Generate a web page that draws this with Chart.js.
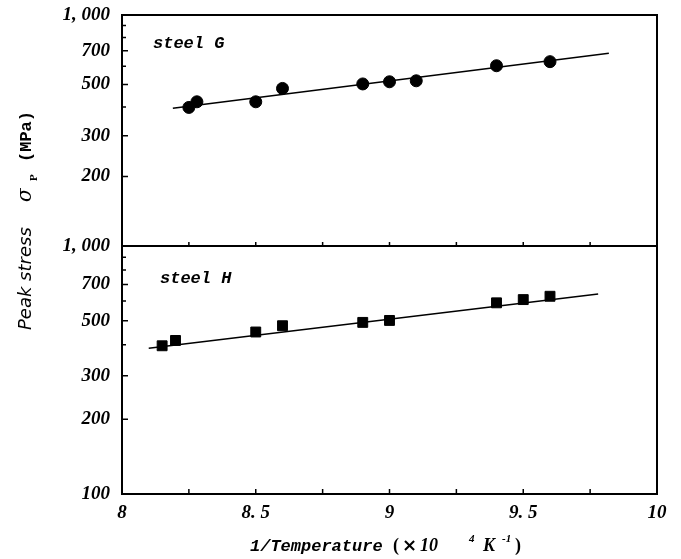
<!DOCTYPE html>
<html><head><meta charset="utf-8">
<script src="https://cdn.jsdelivr.net/npm/chart.js@4"></script>
<style>html,body{margin:0;padding:0;background:#fff}#wrap{width:681px;height:559px;position:relative}</style>
</head><body><div id="wrap"><canvas id="c" width="681" height="559"></canvas></div>
<script>
// ---- data ----
const steelG_x = [8.25, 8.28, 8.5, 8.6, 8.9, 9.0, 9.1, 9.4, 9.6];
const steelG_y = [398, 421, 421, 481, 503, 514, 519, 603, 628];
const steelG_fit_x = [8.19, 9.82];
const steelG_fit_y = [395, 683];
const steelH_x = [8.15, 8.2, 8.5, 8.6, 8.9, 9.0, 9.4, 9.5, 9.6];
const steelH_y = [396, 416, 450, 477, 492, 501, 590, 608, 627];
const steelH_fit_x = [8.1, 9.78];
const steelH_fit_y = [387, 641];
const xTickValues = [8, 8.25, 8.5, 8.75, 9, 9.25, 9.5, 9.75, 10];
const xTickLabels = {8: '8', 8.5: '8. 5', 9: '9', 9.5: '9. 5', 10: '10'};
const yTickValues = [100, 200, 300, 400, 500, 600, 700, 800, 900, 1000];
const yTopLabels = {200: '200', 300: '300', 500: '500', 700: '700', 1000: '1, 000'};
const yBotLabels = {100: '100', 200: '200', 300: '300', 500: '500', 700: '700', 1000: '1, 000'};
const panelLabels = ['steel G', 'steel H'];
const yTitle = ['Peak stress', 'σ', 'P', '(MPa)'];
const xTitle = ['1/Temperature', '(', '×', '10', '4', 'K', '-1', ')'];

const zip = (xs, ys) => xs.map((x, i) => ({x: x, y: ys[i]}));
const tickFont = {family: 'Liberation Serif', size: 19, weight: 'bold', style: 'italic'};

function yScale(id, labels, weight) {
  return {
    type: 'logarithmic', position: 'left', stack: 'y', stackWeight: weight,
    min: 100, max: 1000,
    afterBuildTicks: s => { s.ticks = yTickValues.map(v => ({value: v})); },
    afterFit: s => { s.width = 122; s.paddingTop = 0; s.paddingBottom = 0; },
    ticks: {callback: v => labels[v] ?? '', font: tickFont, color: '#000', padding: 12, autoSkip: false},
    grid: {display: false, drawTicks: false},
    border: {display: true, color: '#000', width: 2}
  };
}

const framePlugin = {
  id: 'frame',
  afterDraw(chart) {
    const ctx = chart.ctx, a = chart.chartArea;
    const sx = chart.scales.x, sG = chart.scales.yG, sH = chart.scales.yH;
    ctx.save();
    ctx.strokeStyle = '#000';
    ctx.lineWidth = 2;
    ctx.beginPath();
    ctx.moveTo(a.left, a.top); ctx.lineTo(a.right, a.top); ctx.lineTo(a.right, a.bottom);
    const div = sG.bottom;
    ctx.moveTo(a.left, div); ctx.lineTo(a.right, div);
    ctx.stroke();
    // inward ticks
    ctx.lineWidth = 1.5;
    ctx.beginPath();
    [[sG, yTopLabels], [sH, yBotLabels]].forEach(([s, lab]) => {
      yTickValues.forEach(v => {
        if (v === 100 || v === 1000) return;
        const py = s.getPixelForValue(v);
        const len = lab[v] ? 6 : 4;
        ctx.moveTo(a.left, py); ctx.lineTo(a.left + len, py);
      });
    });
    xTickValues.forEach(v => {
      if (v === 8 || v === 10) return;
      const px = sx.getPixelForValue(v);
      ctx.moveTo(px, a.bottom); ctx.lineTo(px, a.bottom - 5);
      ctx.moveTo(px, div); ctx.lineTo(px, div - 4);
    });
    ctx.stroke();
    // panel labels
    ctx.fillStyle = '#000';
    ctx.textBaseline = 'alphabetic';
    ctx.textAlign = 'left';
    ctx.font = 'italic bold 17px "Liberation Mono"';
    ctx.fillText(panelLabels[0], a.left + 31, a.top + 33);
    ctx.fillText(panelLabels[1], a.left + 38, div + 37);
    // y title
    ctx.save();
    ctx.translate(31, 330);
    ctx.rotate(-Math.PI / 2);
    ctx.font = 'italic 18px "DejaVu Sans"';
    ctx.fillText(yTitle[0], 0, 0);
    ctx.font = 'italic 20px "DejaVu Serif"';
    ctx.fillText(yTitle[1], 128, 0);
    ctx.font = 'bold 11px "Liberation Serif"';
    ctx.fillText(yTitle[2], 149, 6);
    ctx.font = 'bold 17px "Liberation Mono"';
    ctx.fillText(yTitle[3], 168, 0);
    ctx.restore();
    // x title
    const by = 551;
    ctx.font = 'italic bold 17px "Liberation Mono"';
    ctx.fillText(xTitle[0], 250, by);
    ctx.font = 'bold 18px "Liberation Serif"';
    ctx.fillText(xTitle[1], 393, by);
    ctx.font = 'bold 18px "DejaVu Sans"';
    ctx.fillText(xTitle[2], 402, by);
    ctx.font = 'italic bold 18px "Liberation Serif"';
    ctx.fillText(xTitle[3], 420, by);
    ctx.font = 'italic bold 11px "Liberation Serif"';
    ctx.fillText(xTitle[4], 469, by - 9);
    ctx.font = 'italic bold 18px "Liberation Serif"';
    ctx.fillText(xTitle[5], 483, by);
    ctx.font = 'italic bold 11px "Liberation Serif"';
    ctx.fillText(xTitle[6], 502, by - 9);
    ctx.font = 'bold 18px "Liberation Serif"';
    ctx.fillText(xTitle[7], 515, by);
    ctx.restore();
  }
};

new Chart(document.getElementById('c'), {
  type: 'scatter',
  data: {
    datasets: [
      {data: zip(steelG_x, steelG_y), yAxisID: 'yG', pointStyle: 'circle', pointRadius: 6,
       backgroundColor: '#000', borderColor: '#000', showLine: false},
      {data: zip(steelG_fit_x, steelG_fit_y), yAxisID: 'yG', showLine: true, pointRadius: 0,
       borderColor: '#000', borderWidth: 1.5},
      {data: zip(steelH_x, steelH_y), yAxisID: 'yH', pointStyle: 'rect', pointRadius: 7,
       backgroundColor: '#000', borderColor: '#000', showLine: false},
      {data: zip(steelH_fit_x, steelH_fit_y), yAxisID: 'yH', showLine: true, pointRadius: 0,
       borderColor: '#000', borderWidth: 1.5}
    ]
  },
  options: {
    responsive: false, animation: false,
    layout: {padding: {top: 15, right: 24, left: 0, bottom: 0}},
    plugins: {legend: {display: false}, tooltip: {enabled: false}},
    scales: {
      x: {
        type: 'linear', position: 'bottom', min: 8, max: 10,
        afterBuildTicks: s => { s.ticks = xTickValues.map(v => ({value: v})); },
        afterFit: s => { s.height = 65; },
        ticks: {callback: v => xTickLabels[v] ?? '', font: tickFont, color: '#000', padding: 8,
                maxRotation: 0, autoSkip: false},
        grid: {display: false, drawTicks: false},
        border: {display: true, color: '#000', width: 2}
      },
      yH: yScale('yH', yBotLabels, 248),
      yG: yScale('yG', yTopLabels, 231)
    }
  },
  plugins: [framePlugin]
});
</script>
</body></html>
